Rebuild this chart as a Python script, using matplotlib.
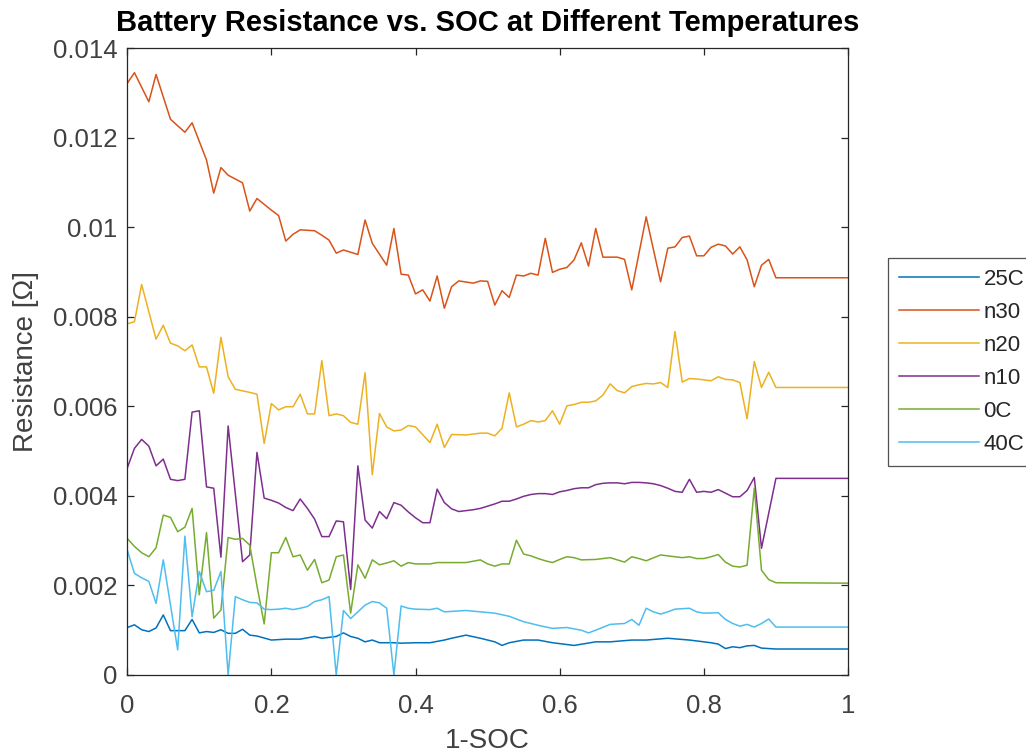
import numpy as np
import matplotlib
matplotlib.use("Agg")
import matplotlib.pyplot as plt
from matplotlib.ticker import FixedLocator, FixedFormatter

plt.rcParams['font.family'] = ['Liberation Sans', 'DejaVu Sans']

# -- Data (x = 1-SOC, y = resistance in Ohm) --

x_25c = [0.00, 0.01, 0.02, 0.03, 0.04, 0.05, 0.06, 0.07, 0.08, 0.09, 0.10, 0.11,
         0.12, 0.13, 0.14, 0.15, 0.16, 0.17, 0.18, 0.20, 0.22, 0.24, 0.26, 0.27,
         0.29, 0.30, 0.31, 0.32, 0.33, 0.34, 0.35, 0.37, 0.38, 0.40, 0.42, 0.44,
         0.45, 0.47, 0.49, 0.51, 0.52, 0.53, 0.55, 0.57, 0.59, 0.62, 0.65, 0.67,
         0.70, 0.72, 0.75, 0.78, 0.81, 0.82, 0.83, 0.84, 0.85, 0.86, 0.87, 0.88,
         0.90, 1.00]
r_25c = [0.00106, 0.00112, 0.00101, 0.00097, 0.00105, 0.00134, 0.00099, 0.00099,
         0.00099, 0.00124, 0.00094, 0.00097, 0.00095, 0.00101, 0.00093, 0.00093,
         0.00102, 0.00089, 0.00087, 0.00078, 0.00080, 0.00080, 0.00086, 0.00082,
         0.00086, 0.00094, 0.00086, 0.00082, 0.00074, 0.00078, 0.00072, 0.00072,
         0.00071, 0.00072, 0.00072, 0.00078, 0.00082, 0.00089, 0.00082, 0.00074,
         0.00066, 0.00072, 0.00078, 0.00078, 0.00072, 0.00066, 0.00074, 0.00074,
         0.00078, 0.00078, 0.00082, 0.00078, 0.00072, 0.00069, 0.00059, 0.00063,
         0.00061, 0.00065, 0.00066, 0.00060, 0.00058, 0.00058]

x_n30 = [0.00, 0.01, 0.03, 0.04, 0.06, 0.08, 0.09, 0.11, 0.12, 0.13, 0.14, 0.16,
         0.17, 0.18, 0.20, 0.21, 0.22, 0.23, 0.24, 0.26, 0.27, 0.28, 0.29, 0.30,
         0.32, 0.33, 0.34, 0.36, 0.37, 0.38, 0.39, 0.40, 0.41, 0.42, 0.43, 0.44,
         0.45, 0.46, 0.48, 0.49, 0.50, 0.51, 0.52, 0.53, 0.54, 0.55, 0.56, 0.57,
         0.58, 0.59, 0.60, 0.61, 0.62, 0.63, 0.64, 0.65, 0.66, 0.68, 0.69, 0.70,
         0.72, 0.74, 0.75, 0.76, 0.77, 0.78, 0.79, 0.80, 0.81, 0.82, 0.83, 0.84,
         0.85, 0.86, 0.87, 0.88, 0.89, 0.90, 1.00]
r_n30 = [0.01321, 0.01345, 0.01280, 0.01341, 0.01241, 0.01212, 0.01233, 0.01150,
         0.01076, 0.01133, 0.01116, 0.01099, 0.01036, 0.01064, 0.01038, 0.01026,
         0.00969, 0.00984, 0.00994, 0.00992, 0.00982, 0.00971, 0.00942, 0.00949,
         0.00939, 0.01016, 0.00964, 0.00915, 0.00997, 0.00895, 0.00893, 0.00851,
         0.00860, 0.00835, 0.00891, 0.00819, 0.00867, 0.00880, 0.00875, 0.00880,
         0.00879, 0.00826, 0.00858, 0.00843, 0.00893, 0.00891, 0.00897, 0.00893,
         0.00975, 0.00899, 0.00906, 0.00910, 0.00927, 0.00965, 0.00913, 0.00997,
         0.00933, 0.00933, 0.00928, 0.00860, 0.01023, 0.00878, 0.00953, 0.00956,
         0.00977, 0.00980, 0.00936, 0.00936, 0.00955, 0.00962, 0.00958, 0.00940,
         0.00956, 0.00927, 0.00867, 0.00915, 0.00928, 0.00887, 0.00887]

x_n20 = [0.00, 0.01, 0.02, 0.04, 0.05, 0.06, 0.07, 0.08, 0.09, 0.10, 0.11, 0.12,
         0.13, 0.14, 0.15, 0.17, 0.18, 0.19, 0.20, 0.21, 0.22, 0.23, 0.24, 0.25,
         0.26, 0.27, 0.28, 0.29, 0.30, 0.31, 0.32, 0.33, 0.34, 0.35, 0.36, 0.37,
         0.38, 0.39, 0.40, 0.42, 0.43, 0.44, 0.45, 0.47, 0.49, 0.50, 0.51, 0.52,
         0.53, 0.54, 0.55, 0.56, 0.57, 0.58, 0.59, 0.60, 0.61, 0.62, 0.63, 0.64,
         0.65, 0.66, 0.67, 0.68, 0.69, 0.70, 0.71, 0.72, 0.73, 0.74, 0.75, 0.76,
         0.77, 0.78, 0.79, 0.80, 0.81, 0.82, 0.83, 0.84, 0.85, 0.86, 0.87, 0.88,
         0.89, 0.90, 1.00]
r_n20 = [0.00784, 0.00789, 0.00872, 0.00750, 0.00781, 0.00741, 0.00735, 0.00724,
         0.00737, 0.00688, 0.00688, 0.00629, 0.00754, 0.00666, 0.00638, 0.00631,
         0.00627, 0.00517, 0.00606, 0.00592, 0.00599, 0.00599, 0.00627, 0.00583,
         0.00583, 0.00702, 0.00579, 0.00583, 0.00579, 0.00564, 0.00560, 0.00675,
         0.00447, 0.00584, 0.00554, 0.00545, 0.00547, 0.00557, 0.00554, 0.00519,
         0.00560, 0.00508, 0.00537, 0.00536, 0.00540, 0.00540, 0.00534, 0.00551,
         0.00630, 0.00554, 0.00560, 0.00568, 0.00565, 0.00568, 0.00590, 0.00560,
         0.00601, 0.00604, 0.00609, 0.00609, 0.00612, 0.00625, 0.00650, 0.00635,
         0.00630, 0.00644, 0.00648, 0.00651, 0.00650, 0.00653, 0.00642, 0.00767,
         0.00654, 0.00662, 0.00661, 0.00659, 0.00657, 0.00666, 0.00660, 0.00659,
         0.00653, 0.00572, 0.00700, 0.00642, 0.00676, 0.00642, 0.00642]

x_n10 = [0.00, 0.01, 0.02, 0.03, 0.04, 0.05, 0.06, 0.07, 0.08, 0.09, 0.10, 0.11,
         0.12, 0.13, 0.14, 0.16, 0.17, 0.18, 0.19, 0.20, 0.21, 0.22, 0.23, 0.24,
         0.25, 0.26, 0.27, 0.28, 0.29, 0.30, 0.31, 0.32, 0.33, 0.34, 0.35, 0.36,
         0.37, 0.38, 0.39, 0.40, 0.41, 0.42, 0.43, 0.44, 0.45, 0.46, 0.48, 0.49,
         0.50, 0.51, 0.52, 0.53, 0.54, 0.55, 0.56, 0.57, 0.58, 0.59, 0.60, 0.61,
         0.62, 0.63, 0.64, 0.65, 0.66, 0.67, 0.68, 0.69, 0.70, 0.71, 0.72, 0.73,
         0.74, 0.75, 0.76, 0.77, 0.78, 0.79, 0.80, 0.81, 0.82, 0.83, 0.84, 0.85,
         0.86, 0.87, 0.88, 0.90, 1.00]
r_n10 = [0.00462, 0.00506, 0.00526, 0.00511, 0.00467, 0.00482, 0.00437, 0.00434,
         0.00437, 0.00587, 0.00590, 0.00420, 0.00417, 0.00263, 0.00556, 0.00253,
         0.00268, 0.00497, 0.00395, 0.00390, 0.00384, 0.00374, 0.00367, 0.00393,
         0.00372, 0.00348, 0.00309, 0.00309, 0.00344, 0.00342, 0.00191, 0.00467,
         0.00346, 0.00328, 0.00365, 0.00349, 0.00385, 0.00379, 0.00364, 0.00351,
         0.00340, 0.00340, 0.00415, 0.00385, 0.00371, 0.00365, 0.00369, 0.00372,
         0.00377, 0.00382, 0.00388, 0.00388, 0.00393, 0.00399, 0.00403, 0.00405,
         0.00405, 0.00403, 0.00409, 0.00412, 0.00416, 0.00418, 0.00418, 0.00425,
         0.00428, 0.00429, 0.00429, 0.00427, 0.00430, 0.00430, 0.00429, 0.00427,
         0.00423, 0.00417, 0.00410, 0.00408, 0.00437, 0.00408, 0.00410, 0.00408,
         0.00414, 0.00406, 0.00398, 0.00398, 0.00412, 0.00441, 0.00283, 0.00439,
         0.00439]

x_0c = [0.00, 0.01, 0.02, 0.03, 0.04, 0.05, 0.06, 0.07, 0.08, 0.09, 0.10, 0.11,
        0.12, 0.13, 0.14, 0.15, 0.16, 0.17, 0.18, 0.19, 0.20, 0.21, 0.22, 0.23,
        0.24, 0.25, 0.26, 0.27, 0.28, 0.29, 0.30, 0.31, 0.32, 0.33, 0.34, 0.35,
        0.36, 0.37, 0.38, 0.39, 0.40, 0.42, 0.43, 0.47, 0.49, 0.50, 0.51, 0.52,
        0.53, 0.54, 0.55, 0.56, 0.57, 0.58, 0.59, 0.60, 0.61, 0.62, 0.63, 0.65,
        0.67, 0.69, 0.70, 0.71, 0.72, 0.74, 0.75, 0.76, 0.77, 0.78, 0.79, 0.80,
        0.81, 0.82, 0.83, 0.84, 0.85, 0.86, 0.87, 0.88, 0.89, 0.90, 1.00]
r_0c = [0.00305, 0.00287, 0.00273, 0.00264, 0.00284, 0.00357, 0.00352, 0.00320,
        0.00330, 0.00372, 0.00179, 0.00318, 0.00127, 0.00145, 0.00307, 0.00303,
        0.00305, 0.00290, 0.00199, 0.00114, 0.00273, 0.00273, 0.00307, 0.00264,
        0.00268, 0.00234, 0.00258, 0.00206, 0.00212, 0.00264, 0.00268, 0.00138,
        0.00246, 0.00216, 0.00257, 0.00246, 0.00250, 0.00255, 0.00243, 0.00251,
        0.00248, 0.00248, 0.00251, 0.00251, 0.00257, 0.00248, 0.00243, 0.00248,
        0.00248, 0.00301, 0.00270, 0.00266, 0.00260, 0.00255, 0.00251, 0.00258,
        0.00264, 0.00262, 0.00257, 0.00258, 0.00262, 0.00252, 0.00264, 0.00260,
        0.00255, 0.00268, 0.00266, 0.00264, 0.00262, 0.00264, 0.00260, 0.00260,
        0.00264, 0.00269, 0.00252, 0.00243, 0.00241, 0.00245, 0.00417, 0.00234,
        0.00213, 0.00206, 0.00205]

x_40c = [0.00, 0.01, 0.02, 0.03, 0.04, 0.05, 0.07, 0.08, 0.09, 0.10, 0.11, 0.12,
         0.13, 0.14, 0.15, 0.16, 0.17, 0.18, 0.19, 0.20, 0.21, 0.22, 0.23, 0.24,
         0.25, 0.26, 0.27, 0.28, 0.29, 0.30, 0.31, 0.32, 0.33, 0.34, 0.35, 0.36,
         0.37, 0.38, 0.39, 0.40, 0.42, 0.43, 0.44, 0.47, 0.49, 0.51, 0.53, 0.55,
         0.57, 0.59, 0.61, 0.63, 0.64, 0.65, 0.67, 0.69, 0.70, 0.71, 0.72, 0.73,
         0.74, 0.75, 0.76, 0.78, 0.79, 0.80, 0.82, 0.83, 0.84, 0.85, 0.86, 0.87,
         0.88, 0.89, 0.90, 1.00]
r_40c = [0.00279, 0.00227, 0.00217, 0.00209, 0.00160, 0.00257, 0.00056, 0.00310,
         0.00130, 0.00231, 0.00186, 0.00189, 0.00231, 0.00000, 0.00175, 0.00168,
         0.00162, 0.00161, 0.00147, 0.00146, 0.00147, 0.00149, 0.00146, 0.00149,
         0.00153, 0.00164, 0.00168, 0.00175, 0.00000, 0.00144, 0.00126, 0.00141,
         0.00156, 0.00164, 0.00161, 0.00149, 0.00000, 0.00154, 0.00149, 0.00147,
         0.00146, 0.00149, 0.00141, 0.00144, 0.00141, 0.00138, 0.00131, 0.00119,
         0.00111, 0.00104, 0.00106, 0.00100, 0.00094, 0.00100, 0.00113, 0.00115,
         0.00124, 0.00111, 0.00149, 0.00141, 0.00136, 0.00141, 0.00147, 0.00149,
         0.00141, 0.00138, 0.00139, 0.00124, 0.00115, 0.00109, 0.00113, 0.00107,
         0.00115, 0.00125, 0.00107, 0.00107]

series = [
    ("25C", x_25c, r_25c, "#0072BD"),
    ("n30", x_n30, r_n30, "#D95319"),
    ("n20", x_n20, r_n20, "#EDB120"),
    ("n10", x_n10, r_n10, "#7E2F8E"),
    ("0C", x_0c, r_0c, "#77AC30"),
    ("40C", x_40c, r_40c, "#4DBEEE"),
]

x_ticks = [0, 0.2, 0.4, 0.6, 0.8, 1.0]
x_ticklabels = ["0", "0.2", "0.4", "0.6", "0.8", "1"]
y_ticks = [0, 0.002, 0.004, 0.006, 0.008, 0.010, 0.012, 0.014]
y_ticklabels = ["0", "0.002", "0.004", "0.006", "0.008", "0.01", "0.012", "0.014"]

# -- Plotting code --

fig = plt.figure(figsize=(10.26, 7.54), dpi=100)
ax = fig.add_axes([0.124, 0.1048, 0.7025, 0.8315])

for name, xs, ys, col in series:
    ax.plot(xs, ys, color=col, lw=1.1, label=name)

ax.set_xlim(0, 1)
ax.set_ylim(0, 0.014)
ax.xaxis.set_major_locator(FixedLocator(x_ticks))
ax.xaxis.set_major_formatter(FixedFormatter(x_ticklabels))
ax.yaxis.set_major_locator(FixedLocator(y_ticks))
ax.yaxis.set_major_formatter(FixedFormatter(y_ticklabels))

edge = "#262626"
for sp in ax.spines.values():
    sp.set_color(edge)
    sp.set_linewidth(0.9)
ax.tick_params(direction="in", top=True, right=True, length=5, width=0.9,
               color=edge, labelcolor="#404040", labelsize=18.5)
ax.tick_params(axis="x", pad=14)
ax.tick_params(axis="y", pad=7)

ax.set_xlabel("1-SOC", fontsize=20, color="#404040", labelpad=7)
ax.set_ylabel("Resistance [Ω]", fontsize=20, color="#404040", labelpad=10)
ax.set_title("Battery Resistance vs. SOC at Different Temperatures",
             fontsize=21, fontweight="bold", color="black", pad=12)

leg = ax.legend(loc="upper left", bbox_to_anchor=(888 / 1026, 1 - 258 / 754),
                bbox_transform=fig.transFigure, fontsize=16, frameon=True,
                fancybox=False, edgecolor=edge, handlelength=3.6,
                handletextpad=0.2, labelspacing=0.54, borderpad=0.5,
                borderaxespad=0)
leg.get_frame().set_linewidth(0.9)
for t in leg.get_texts():
    t.set_color("#262626")

fig.savefig("out.png", dpi=100, facecolor="white")
